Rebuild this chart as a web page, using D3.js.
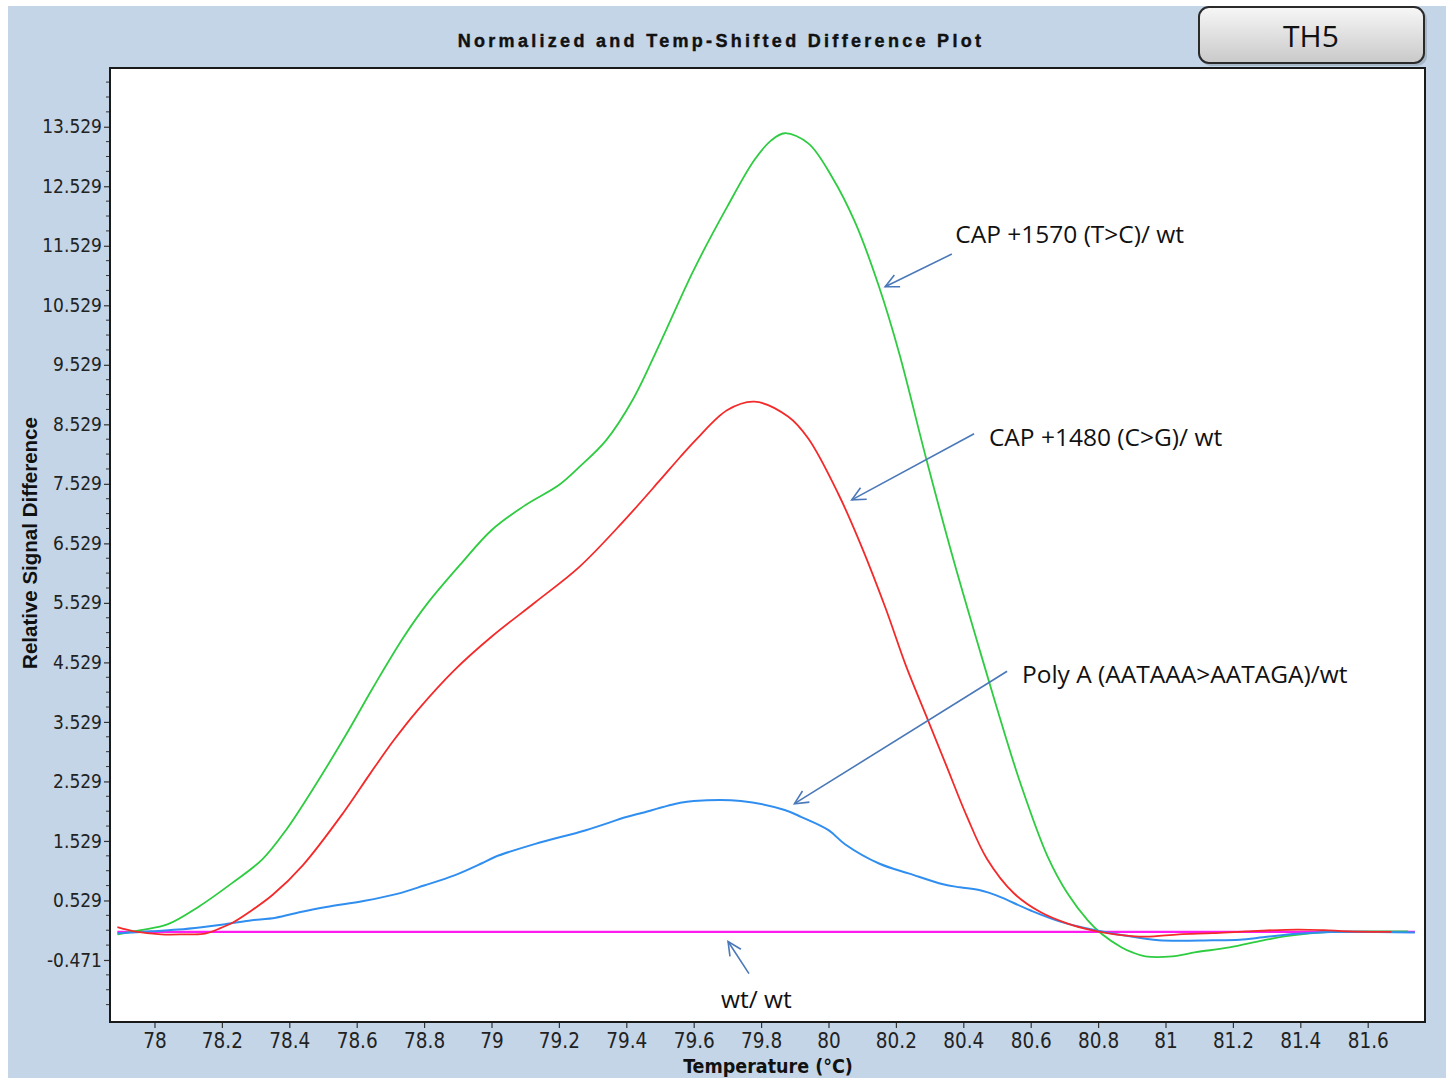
<!DOCTYPE html>
<html>
<head>
<meta charset="utf-8">
<script src="https://cdn.jsdelivr.net/npm/d3@7"></script>
<style>
  html, body { margin: 0; padding: 0; background: #ffffff; }
  svg { display: block; }
</style>
</head>
<body>
<svg id="chart" width="1448" height="1078"></svg>
<script>
// ---------------- DATA ----------------
const chartTitle = "Normalized and Temp-Shifted Difference Plot";
const badgeLabel = "TH5";
const xAxisTitle = "Temperature (°C)";
const yAxisTitle = "Relative Signal Difference";

const xTicks = [78, 78.2, 78.4, 78.6, 78.8, 79, 79.2, 79.4, 79.6, 79.8, 80, 80.2, 80.4, 80.6, 80.8, 81, 81.2, 81.4, 81.6];
const yTicks = [13.529, 12.529, 11.529, 10.529, 9.529, 8.529, 7.529, 6.529, 5.529, 4.529, 3.529, 2.529, 1.529, 0.529, -0.471];

// CAP +1570 (T>C)/ wt  (green)
const greenTemps = [77.89, 77.96, 78.04, 78.13, 78.23, 78.32, 78.39, 78.48, 78.57, 78.65, 78.74, 78.81, 78.91, 79.00, 79.10, 79.20, 79.26, 79.34, 79.42, 79.50, 79.60, 79.70, 79.78, 79.83, 79.87, 79.94, 80.01, 80.08, 80.15, 80.21, 80.29, 80.37, 80.45, 80.51, 80.57, 80.65, 80.71, 80.77, 80.81, 80.87, 80.90, 80.94, 81.02, 81.09, 81.19, 81.29, 81.37, 81.49, 81.64, 81.72];
const greenValues = [-0.04, 0.03, 0.13, 0.42, 0.82, 1.22, 1.71, 2.49, 3.33, 4.12, 4.96, 5.52, 6.19, 6.75, 7.17, 7.51, 7.81, 8.26, 8.95, 9.89, 11.12, 12.19, 12.97, 13.30, 13.42, 13.25, 12.69, 11.91, 10.84, 9.72, 7.95, 6.27, 4.71, 3.57, 2.49, 1.27, 0.64, 0.19, -0.03, -0.26, -0.34, -0.41, -0.41, -0.34, -0.26, -0.14, -0.06, 0.00, 0.01, 0.01];

// CAP +1480 (C>G)/ wt  (red)
const redTemps = [77.89, 77.94, 78.02, 78.09, 78.15, 78.19, 78.23, 78.28, 78.35, 78.44, 78.56, 78.64, 78.71, 78.78, 78.89, 79.00, 79.13, 79.26, 79.39, 79.50, 79.56, 79.61, 79.70, 79.78, 79.88, 79.94, 80.03, 80.10, 80.17, 80.23, 80.29, 80.35, 80.41, 80.47, 80.55, 80.63, 80.71, 80.78, 80.85, 80.94, 81.04, 81.14, 81.24, 81.39, 81.47, 81.54, 81.67];
const redValues = [0.08, 0.01, -0.04, -0.04, -0.03, 0.05, 0.15, 0.33, 0.62, 1.12, 2.00, 2.66, 3.22, 3.72, 4.40, 4.96, 5.54, 6.13, 6.89, 7.59, 7.98, 8.29, 8.77, 8.91, 8.66, 8.29, 7.35, 6.45, 5.43, 4.47, 3.63, 2.79, 1.95, 1.23, 0.65, 0.33, 0.14, 0.03, -0.04, -0.08, -0.04, -0.02, 0.01, 0.04, 0.03, 0.01, 0.00];

// Poly A (AATAAA>AATAGA)/wt  (blue)
const blueTemps = [77.89, 77.99, 78.07, 78.14, 78.21, 78.28, 78.36, 78.43, 78.51, 78.62, 78.72, 78.80, 78.89, 78.97, 79.01, 79.13, 79.28, 79.40, 79.44, 79.56, 79.60, 79.74, 79.87, 79.92, 80.00, 80.05, 80.15, 80.24, 80.34, 80.39, 80.45, 80.50, 80.60, 80.69, 80.80, 80.88, 80.98, 81.14, 81.22, 81.29, 81.39, 81.49, 81.74];
const blueValues = [-0.02, 0.01, 0.04, 0.08, 0.13, 0.19, 0.24, 0.33, 0.42, 0.52, 0.64, 0.78, 0.95, 1.15, 1.26, 1.48, 1.71, 1.93, 1.99, 2.17, 2.20, 2.20, 2.05, 1.93, 1.71, 1.47, 1.15, 0.98, 0.80, 0.75, 0.70, 0.61, 0.36, 0.17, 0.02, -0.06, -0.14, -0.14, -0.13, -0.09, -0.03, 0.00, -0.01];

// wt/ wt  (magenta)
const wtTemps = [77.89, 81.74];
const wtValues = [0, 0];

// annotation labels and arrows (data coordinates: temperature, value)
const annoTexts = ["CAP +1570 (T>C)/ wt", "CAP +1480 (C>G)/ wt", "Poly A (AATAAA>AATAGA)/wt", "wt/ wt"];
const annoTextT = [80.376, 80.476, 80.574, 79.786];
const annoTextV = [11.57, 8.16, 4.19, -1.27];
const annoAnchor = ["start", "start", "start", "middle"];
const arrowFromT = [80.366, 80.432, 80.530, 79.764];
const arrowFromV = [11.39, 8.37, 4.38, -0.70];
const arrowToT = [80.168, 80.069, 79.899, 79.702];
const arrowToV = [10.84, 7.26, 2.155, -0.16];

// ---------------- LAYOUT ----------------
const W = 1448, H = 1078;
const plot = { left: 110, top: 68, right: 1425, bottom: 1022 };

const svg = d3.select("#chart");

svg.append("rect").attr("x", 0).attr("y", 0).attr("width", W).attr("height", H).attr("fill", "#ffffff");
svg.append("rect").attr("x", 8).attr("y", 6).attr("width", 1438).attr("height", 1072).attr("fill", "#c3d5e7");

const x = d3.scaleLinear().domain([77.868, 81.770]).range([plot.left, plot.right]);
const y = d3.scaleLinear().domain([-1.513, 14.516]).range([plot.bottom, plot.top]);

svg.append("rect")
  .attr("x", plot.left).attr("y", plot.top)
  .attr("width", plot.right - plot.left).attr("height", plot.bottom - plot.top)
  .attr("fill", "#ffffff");

const tickFont = "'Liberation Sans Narrow', 'Arial Narrow', 'DejaVu Sans Condensed', sans-serif";

// Y axis
const yAxis = d3.axisLeft(y).tickValues(yTicks).tickSize(6).tickPadding(2)
  .tickFormat(d => d3.format(".3f")(d).replace("\u2212", "-"));
const gy = svg.append("g").attr("transform", `translate(${plot.left},0)`).call(yAxis);
gy.select(".domain").remove();
gy.selectAll(".tick line").attr("stroke", "#333").attr("stroke-width", 1.2);
gy.selectAll(".tick text").attr("font-family", tickFont).attr("font-size", 19).attr("fill", "#222")
  .style("font-stretch", "condensed");

// y minor ticks
const yMinor = [];
yTicks.forEach(t => { [0.25, 0.5, 0.75].forEach(f => { const v = t - f; if (v > -1.513) yMinor.push(v); }); });
[0.25, 0.5, 0.75].forEach(f => { const v = yTicks[0] + f; if (v < 14.516) yMinor.push(v); });
svg.append("g").selectAll("line").data(yMinor).join("line")
  .attr("x1", plot.left - 4).attr("x2", plot.left)
  .attr("y1", d => y(d)).attr("y2", d => y(d))
  .attr("stroke", "#333").attr("stroke-width", 1);

// X axis
const xAxis = d3.axisBottom(x).tickValues(xTicks).tickSize(6).tickPadding(5)
  .tickFormat(d => String(+d.toFixed(1)));
const gx = svg.append("g").attr("transform", `translate(0,${plot.bottom})`).call(xAxis);
gx.select(".domain").remove();
gx.selectAll(".tick line").attr("stroke", "#333").attr("stroke-width", 1.2);
gx.selectAll(".tick text").attr("font-family", tickFont).attr("font-size", 20.5).attr("fill", "#222")
  .style("font-stretch", "condensed");

// series
const series = [
  { temps: wtTemps, values: wtValues, color: "#ff1cf0", width: 2.2 },
  { temps: greenTemps, values: greenValues, color: "#2ecc40", width: 1.8 },
  { temps: blueTemps, values: blueValues, color: "#2f8ef0", width: 2.0 },
  { temps: redTemps, values: redValues, color: "#f42a2a", width: 1.8 }
];
const line = d3.line().x(d => x(d[0])).y(d => y(d[1])).curve(d3.curveCatmullRom.alpha(0.5));
svg.append("clipPath").attr("id", "plotclip").append("rect")
  .attr("x", plot.left).attr("y", plot.top)
  .attr("width", plot.right - plot.left).attr("height", plot.bottom - plot.top);
const gSeries = svg.append("g").attr("clip-path", "url(#plotclip)");
series.forEach(s => {
  const pts = s.temps.map((t, i) => [t, s.values[i]]);
  gSeries.append("path").datum(pts).attr("d", line)
    .attr("fill", "none").attr("stroke", s.color).attr("stroke-width", s.width)
    .attr("stroke-linejoin", "round");
});

// frame
svg.append("rect")
  .attr("x", plot.left).attr("y", plot.top)
  .attr("width", plot.right - plot.left).attr("height", plot.bottom - plot.top)
  .attr("fill", "none").attr("stroke", "#1a1a1a").attr("stroke-width", 2);

// title
svg.append("text")
  .attr("x", 721).attr("y", 47).attr("text-anchor", "middle")
  .attr("font-family", "'Liberation Sans', Arial, sans-serif").attr("font-weight", "bold")
  .attr("font-size", 18).attr("letter-spacing", 3.3).attr("fill", "#111")
  .attr("stroke", "#111").attr("stroke-width", 0.4)
  .text(chartTitle);

// axis titles
svg.append("text")
  .attr("transform", "translate(37,543) rotate(-90)").attr("text-anchor", "middle")
  .attr("font-family", "'Liberation Sans', Arial, sans-serif").attr("font-weight", "bold")
  .attr("font-size", 20.5).attr("fill", "#111")
  .text(yAxisTitle);
svg.append("text")
  .attr("x", 768).attr("y", 1073).attr("text-anchor", "middle")
  .attr("font-family", tickFont).attr("font-weight", "bold").style("font-stretch", "condensed")
  .attr("font-size", 19.5).attr("fill", "#111")
  .text(xAxisTitle);

// badge
const defs = svg.append("defs");
const grad = defs.append("linearGradient").attr("id", "badgeGrad").attr("x1", 0).attr("y1", 0).attr("x2", 0).attr("y2", 1);
grad.append("stop").attr("offset", "0%").attr("stop-color", "#f7f7f7");
grad.append("stop").attr("offset", "100%").attr("stop-color", "#c9c9c9");
svg.append("rect").attr("x", 1201).attr("y", 9).attr("width", 226).attr("height", 57).attr("rx", 10)
  .attr("fill", "#8a9aa8").attr("opacity", 0.5);
svg.append("rect").attr("x", 1199).attr("y", 7).attr("width", 225).attr("height", 56).attr("rx", 10)
  .attr("fill", "url(#badgeGrad)").attr("stroke", "#2a2a2a").attr("stroke-width", 2);
svg.append("text").attr("x", 1311).attr("y", 47).attr("text-anchor", "middle")
  .attr("font-family", "'Open Sans', 'Noto Sans', sans-serif").attr("font-size", 30).attr("fill", "#111")
  .text(badgeLabel);

// annotations
const arrowColor = "#4a78b8";
const gAnno = svg.append("g");
annoTexts.forEach((t, i) => {
  gAnno.append("text")
    .attr("x", x(annoTextT[i])).attr("y", y(annoTextV[i]))
    .attr("text-anchor", annoAnchor[i])
    .attr("font-family", "'Open Sans', 'Noto Sans', sans-serif").attr("font-size", 24.5).attr("fill", "#111")
    .text(t);
  const x1 = x(arrowFromT[i]), y1 = y(arrowFromV[i]);
  const x2 = x(arrowToT[i]), y2 = y(arrowToV[i]);
  gAnno.append("line").attr("x1", x1).attr("y1", y1).attr("x2", x2).attr("y2", y2)
    .attr("stroke", arrowColor).attr("stroke-width", 1.6);
  const ang = Math.atan2(y1 - y2, x1 - x2);
  const len = 15, spread = 0.45;
  const p1 = [x2 + len * Math.cos(ang + spread), y2 + len * Math.sin(ang + spread)];
  const p2 = [x2 + len * Math.cos(ang - spread), y2 + len * Math.sin(ang - spread)];
  gAnno.append("path")
    .attr("d", `M${p1[0]},${p1[1]}L${x2},${y2}L${p2[0]},${p2[1]}`)
    .attr("fill", "none").attr("stroke", arrowColor).attr("stroke-width", 1.6)
    .attr("stroke-linejoin", "miter");
});
</script>
</body>
</html>
